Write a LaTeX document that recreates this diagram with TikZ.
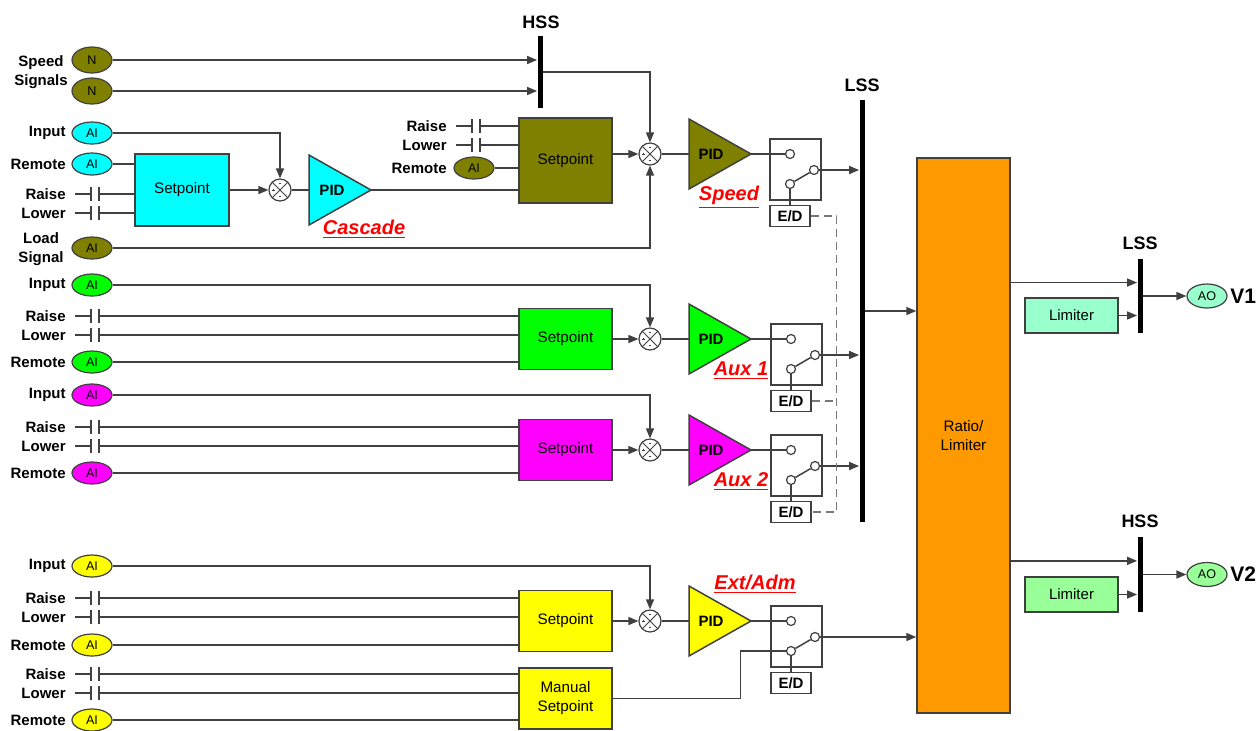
\documentclass[tikz,border=0pt]{standalone}
\usepackage{fontspec}
\setmainfont{Liberation Sans}
\usetikzlibrary{shapes.geometric, arrows.meta, calc}

\definecolor{linec}{RGB}{64,64,64}
\definecolor{dashc}{RGB}{120,120,120}
\definecolor{spdol}{RGB}{128,128,0}
\definecolor{casc}{RGB}{0,255,255}
\definecolor{auxa}{RGB}{0,255,0}
\definecolor{auxb}{RGB}{255,0,255}
\definecolor{extad}{RGB}{255,255,0}
\definecolor{ratioc}{RGB}{255,153,0}
\definecolor{limc}{RGB}{153,255,204}
\definecolor{limd}{RGB}{153,255,153}

\begin{document}
\begin{tikzpicture}[x=0.5pt, y=-0.5pt,
  sig/.style={draw=linec, line width=0.75pt},
  arr/.style={sig, -{Triangle[length=5pt,width=4pt]}},
  ai/.style={ellipse, draw=linec, line width=0.6pt, minimum width=20pt, minimum height=11pt, inner sep=0pt, font=\fontsize{6.3}{7}\selectfont},
  lbl/.style={anchor=east, inner sep=0pt, font=\fontsize{7.5}{9.5}\selectfont\bfseries},
  spbox/.style={rectangle, draw=linec, line width=0.7pt, minimum width=46.5pt, minimum height=30.5pt, inner sep=0pt, font=\fontsize{7.6}{9.5}\selectfont, align=center},
  sum/.style={circle, draw=linec, line width=0.6pt, fill=white, minimum size=11pt, inner sep=0pt,
    path picture={
      \draw[linec, line width=0.5pt] (path picture bounding box.north west) -- (path picture bounding box.south east)
        (path picture bounding box.north east) -- (path picture bounding box.south west);
      \draw[linec, line width=0.4pt] ([shift={(-0.7pt,3.4pt)}]path picture bounding box.center) -- ++(1.4pt,0)
        ([shift={(-0.7pt,-3.4pt)}]path picture bounding box.center) -- ++(1.4pt,0)
        ([shift={(-4.1pt,0pt)}]path picture bounding box.center) -- ++(1.4pt,0)
        ([shift={(-3.4pt,-0.7pt)}]path picture bounding box.center) -- ++(0,1.4pt);}},
  pidtxt/.style={inner sep=0pt, font=\fontsize{7.5}{8}\selectfont\bfseries},
  swbox/.style={rectangle, draw=linec, line width=0.6pt, minimum width=25.5pt, minimum height=30.5pt, inner sep=0pt},
  swpin/.style={circle, draw=linec, line width=0.6pt, fill=white, minimum size=4.5pt, inner sep=0pt},
  edbox/.style={rectangle, draw=linec, line width=0.6pt, fill=white, minimum width=20pt, minimum height=10.5pt, inner sep=0pt, font=\fontsize{7.5}{8}\selectfont\bfseries},
  selbar/.style={rectangle, fill=black, minimum width=2.5pt, inner sep=0pt},
  barlbl/.style={inner sep=0pt, font=\fontsize{9}{10}\selectfont\bfseries},
  looplbl/.style={inner sep=0pt, text=red, font=\fontsize{10}{11}\selectfont\bfseries\itshape},
  edline/.style={draw=dashc, line width=0.75pt, dash pattern=on 4pt off 2.5pt}
]
  \useasboundingbox (0,0) rectangle (1260,730);

  % Speed signals into HSS
  \node[ai, fill=spdol, minimum height=13pt] (nsA) at (92,60) {N};
  \node[ai, fill=spdol, minimum height=13pt] (nsB) at (92,91) {N};
  \node[lbl, anchor=center, align=center] (lspd) at (41,72) {Speed\\Signals};
  \node[selbar, minimum height=36pt] (hss) at (540,72) {};
  \node[barlbl] (hsslbl) at (541,22) {HSS};
  \draw[arr] (nsA.east) -- (nsA.east -| hss.west);
  \draw[arr] (nsB.east) -- (nsB.east -| hss.west);

  % Select bars and ratio block
  \node[selbar, minimum height=211pt] (lss) at (862,311) {};
  \node[barlbl] (lsslbl) at (862,85) {LSS};
  \node[spbox, fill=ratioc, minimum height=277.5pt] (ratio) at (963.5,435.5) {Ratio/\\Limiter};
  \draw[arr] (lss.east) -- (lss.east -| ratio.west);

  % Cascade loop
  \node[ai, fill=casc] (inC) at (92,133) {AI};
  \node[lbl] (linC) at (66,133) {Input};
  \node[ai, fill=casc] (remC) at (92,164) {AI};
  \node[lbl] (lremC) at (66,164) {Remote};
  \node[spbox, fill=casc, minimum width=47pt, minimum height=36pt] (spC) at (182,190) {Setpoint};
  \node[sum] (sumC) at (280,190) {};
  \draw[sig, fill=casc] (309,155) -- (371,190) -- (309,225) -- cycle;
  \coordinate (pidinC) at (309,190);
  \coordinate (pidC) at (371,190);
  \node[pidtxt] (tpidC) at (332,190) {PID};
  \node[looplbl] (lcas) at (364,229) {\underline{Cascade}};
  \draw[arr] (inC.east) -| (sumC.north);
  \draw[sig] (remC.east) -- (remC.east -| spC.west);
  \draw[arr] (spC.east) -- (sumC.west);
  \draw[sig] (sumC.east) -- (pidinC);

  % Speed setpoint
  \node[spbox, fill=spdol, minimum height=42.5pt] (spS) at (565.5,160.5) {Setpoint};
  \node[ai, fill=spdol] (remS) at (474,168) {AI};
  \node[lbl] (lremS) at (447,168) {Remote};
  \node[ai, fill=spdol] (load) at (92,248) {AI};
  \node[lbl, anchor=center, align=center] (lload) at (41,249) {Load\\Signal};
  \draw[sig] (remS.east) -- (remS.east -| spS.west);
  \draw[sig] (pidC) -- (pidC -| spS.west);

  % Aux 1, Aux 2, Ext/Adm inputs and setpoints
  \foreach \nm/\col/\yi/\ys/\yr in {A/auxa/285/339/362, B/auxb/395/450/473, E/extad/566/621/645} {
    \node[ai, fill=\col] (in\nm) at (92,\yi) {AI};
    \node[lbl] (lin\nm) at (66,\yi) {Input};
    \node[ai, fill=\col] (rem\nm) at (92,\yr) {AI};
    \node[lbl] (lrem\nm) at (66,\yr) {Remote};
    \node[spbox, fill=\col] (sp\nm) at (565.5,\ys) {Setpoint};
    \draw[sig] (rem\nm.east) -- (rem\nm.east -| sp\nm.west);
  }
  \node[spbox, fill=extad] (spM) at (565.5,698.5) {Manual\\Setpoint};
  \node[ai, fill=extad] (remM) at (92,720) {AI};
  \node[lbl] (lremM) at (66,720) {Remote};
  \draw[sig] (remM.east) -- (remM.east -| spM.west);

  % Raise / Lower contacts
  \foreach \kn/\kx/\yy/\bx/\ktext in {C1/91/194/spC/Raise, C2/91/213/spC/Lower,
      S1/472/126/spS/Raise, S2/472/145/spS/Lower,
      A1/91/316/spA/Raise, A2/91/335/spA/Lower, B1/91/427/spB/Raise, B2/91/446/spB/Lower,
      E1/91/598/spE/Raise, E2/91/617/spE/Lower, M1/91/674/spM/Raise, M2/91/693/spM/Lower} {
    \coordinate (k\kn) at (\kx,\yy);
    \node[lbl] (lk\kn) at (\kx-25,\yy) {\ktext};
    \draw[sig] (k\kn) ++(-16,0) -- (k\kn) ++(0,-7) -- ++(0,14)
      (k\kn) ++(8,-7) -- ++(0,14) (k\kn) ++(8,0) -- (k\kn -| \bx.west);
  }

  % Summing junctions, PIDs and switches
  \foreach \nm/\col/\cy/\cx in {S/spdol/154/790, A/auxa/339/791, B/auxb/450/791, E/extad/621/791} {
    \node[sum] (sum\nm) at (650,\cy) {};
    \draw[sig, fill=\col] (689,\cy-35) -- (751,\cy) -- (689,\cy+35) -- cycle;
    \coordinate (pidin\nm) at (689,\cy);
    \coordinate (pid\nm) at (751,\cy);
    \node[pidtxt] (tpid\nm) at (711,\cy) {PID};
    \draw[arr] (sum\nm -| sp\nm.east) -- (sum\nm.west);
    \draw[sig] (sum\nm.east) -- (pidin\nm);
    \node[swbox] (sw\nm) at (\cx+5.5,\cy+15.5) {};
    \node[swpin] (swi\nm) at (\cx,\cy) {};
    \node[swpin] (swo\nm) at (\cx+24,\cy+16) {};
    \node[swpin] (swc\nm) at (\cx,\cy+30) {};
    \node[edbox] (ed\nm) at (\cx,\cy+62) {E/D};
    \draw[sig] (pid\nm) -- (swi\nm);
    \draw[sig] (swc\nm) -- (swo\nm);
    \draw[sig] (swc\nm) -- (ed\nm);
  }
  \foreach \nm in {A, B, E} {
    \draw[arr] (in\nm.east) -| (sum\nm.north);
  }
  \draw[arr] (hss.east) -| (sumS.north);
  \draw[arr] (load.east) -| (sumS.south);
  \foreach \nm in {S, A, B} {
    \draw[arr] (swo\nm) -- (swo\nm -| lss.west);
  }
  \draw[arr] (swoE) -- (swoE -| ratio.west);
  \draw[sig] (spM.east) -- ++(128,0) |- (swcE);

  % Loop names
  \node[looplbl] (lspdl) at (729,197) {\underline{Speed}};
  \node[looplbl] (lauxa) at (741,371) {\underline{Aux 1}};
  \node[looplbl] (lauxb) at (741,482) {\underline{Aux 2}};
  \node[looplbl] (lext) at (755,584) {\underline{Ext/Adm}};

  % Enable / disable link
  \draw[edline] (edS.east) -- ++(26,0) |- (edB.east);
  \draw[edline] (edA.east) -- ++(25,0);

  % Valve outputs
  \node[selbar, minimum height=37pt] (lssv) at (1140,296) {};
  \node[barlbl] (lssvlbl) at (1140,243) {LSS};
  \node[spbox, fill=limc, minimum height=17.5pt, font=\fontsize{7.5}{9}\selectfont] (limA) at (1071.5,315.5) {Limiter};
  \node[ai, fill=limc, minimum height=12pt] (aoA) at (1207,296) {AO};
  \node[lbl, anchor=west, font=\fontsize{10.5}{11}\selectfont\bfseries] (vA) at (1230,296) {V1};
  \coordinate (lssin) at ($(lssv.north west)!0.32!(lssv.south west)$);
  \draw[arr] (ratio.east |- lssin) -- (lssin);
  \draw[arr] (limA.east) -- (limA.east -| lssv.west);
  \draw[arr] (lssv.east) -- (aoA.west);

  \node[selbar, minimum height=37.5pt] (hssv) at (1140,574.5) {};
  \node[barlbl] (hssvlbl) at (1140,521) {HSS};
  \node[spbox, fill=limd, minimum height=17.5pt, font=\fontsize{7.5}{9}\selectfont] (limB) at (1071.5,594.5) {Limiter};
  \node[ai, fill=limd, minimum height=12pt] (aoB) at (1207,574.5) {AO};
  \node[lbl, anchor=west, font=\fontsize{10.5}{11}\selectfont\bfseries] (vB) at (1230,574.5) {V2};
  \coordinate (hssin) at ($(hssv.north west)!0.32!(hssv.south west)$);
  \draw[arr] (ratio.east |- hssin) -- (hssin);
  \draw[arr] (limB.east) -- (limB.east -| hssv.west);
  \draw[arr] (hssv.east) -- (aoB.west);
\end{tikzpicture}
\end{document}
